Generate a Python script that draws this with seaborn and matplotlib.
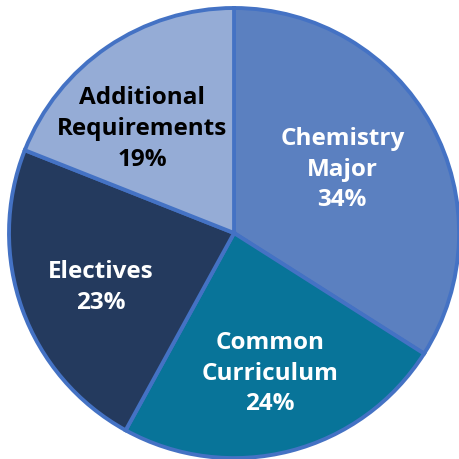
import matplotlib.pyplot as plt
import numpy as np
import seaborn as sns

categories = ["Chemistry\nMajor", "Common\nCurriculum", "Electives", "Additional\nRequirements"]
shares = [34, 24, 23, 19]
colors = sns.color_palette(["#5b80c0", "#087499", "#243a5e", "#95acd6"])
text_colors = ["white", "white", "white", "black"]
label_radius = [0.56, 0.64, 0.64, 0.62]
label_shift = [2, 0, 2, 7]  # degrees, nudges to match manual placement

sns.set_style("white")
plt.rcParams['font.family'] = ['Open Sans', 'DejaVu Sans']

fig = plt.figure(figsize=(4.6, 4.6), dpi=100)
ax = fig.add_axes([0, 0, 1, 1])

wedges, _ = ax.pie(shares, colors=colors, startangle=90, counterclock=False,
                   wedgeprops=dict(edgecolor="#4472c4", linewidth=2.8))

# labels placed inside each slice
for w, lab, pct, tc, r, d in zip(wedges, categories, shares, text_colors, label_radius, label_shift):
    mid = np.deg2rad((w.theta1 + w.theta2) / 2 + d)
    ax.text(r * np.cos(mid), r * np.sin(mid), f"{lab}\n{pct}%",
            ha="center", va="center", color=tc, fontsize=17.5, fontweight="bold",
            linespacing=1.38)

ax.set_xlim(-1.04, 1.004)
ax.set_ylim(-1.004, 1.04)
ax.set_aspect("equal")
ax.axis("off")

plt.savefig("out.png", dpi=100)
